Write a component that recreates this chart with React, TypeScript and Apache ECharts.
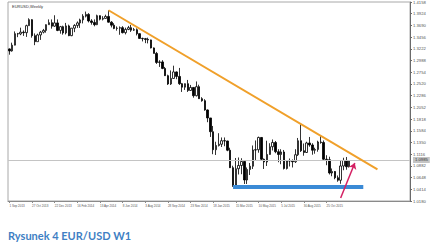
import React, { useEffect, useRef } from "react";
import * as echarts from "echarts";

// Weekly candles EUR/USD, week of 1 Sep 2013 .. week of 20 Dec 2015: [open, close, low, high]
const CANDLES: number[][] = [
  [1.3220, 1.3180, 1.3105, 1.3230], [1.3180, 1.3295, 1.3165, 1.3345], [1.3295, 1.3525, 1.3290, 1.3570], [1.3525, 1.3520, 1.3455, 1.3540],
  [1.3520, 1.3555, 1.3495, 1.3645], [1.3555, 1.3545, 1.3480, 1.3590], [1.3545, 1.3685, 1.3460, 1.3705], [1.3685, 1.3805, 1.3680, 1.3832],
  [1.3805, 1.3485, 1.3445, 1.3815], [1.3485, 1.3365, 1.3295, 1.3530], [1.3365, 1.3500, 1.3365, 1.3525], [1.3500, 1.3555, 1.3400, 1.3580],
  [1.3555, 1.3590, 1.3530, 1.3620], [1.3590, 1.3705, 1.3545, 1.3710], [1.3705, 1.3745, 1.3700, 1.3810], [1.3745, 1.3675, 1.3625, 1.3810],
  [1.3675, 1.3740, 1.3660, 1.3893], [1.3740, 1.3590, 1.3575, 1.3810], [1.3590, 1.3665, 1.3525, 1.3680], [1.3665, 1.3540, 1.3505, 1.3685],
  [1.3540, 1.3680, 1.3510, 1.3740], [1.3680, 1.3485, 1.3475, 1.3705], [1.3485, 1.3635, 1.3475, 1.3640], [1.3635, 1.3690, 1.3555, 1.3715],
  [1.3690, 1.3740, 1.3640, 1.3770], [1.3740, 1.3800, 1.3640, 1.3825], [1.3800, 1.3875, 1.3730, 1.3915], [1.3875, 1.3910, 1.3850, 1.3967],
  [1.3910, 1.3780, 1.3750, 1.3935], [1.3780, 1.3750, 1.3705, 1.3815], [1.3750, 1.3705, 1.3672, 1.3810], [1.3705, 1.3885, 1.3695, 1.3905],
  [1.3885, 1.3815, 1.3790, 1.3850], [1.3815, 1.3830, 1.3790, 1.3875], [1.3830, 1.3870, 1.3825, 1.3905], [1.3870, 1.3755, 1.3745, 1.3993],
  [1.3755, 1.3695, 1.3650, 1.3775], [1.3695, 1.3630, 1.3615, 1.3735], [1.3630, 1.3635, 1.3585, 1.3670], [1.3635, 1.3645, 1.3503, 1.3670],
  [1.3645, 1.3545, 1.3530, 1.3675], [1.3545, 1.3610, 1.3510, 1.3645], [1.3610, 1.3645, 1.3595, 1.3680], [1.3645, 1.3595, 1.3560, 1.3700],
  [1.3595, 1.3605, 1.3580, 1.3640], [1.3605, 1.3525, 1.3490, 1.3630], [1.3525, 1.3430, 1.3425, 1.3530], [1.3430, 1.3425, 1.3370, 1.3445],
  [1.3425, 1.3410, 1.3335, 1.3440], [1.3410, 1.3400, 1.3330, 1.3445], [1.3400, 1.3240, 1.3230, 1.3405], [1.3240, 1.3130, 1.3130, 1.3250],
  [1.3130, 1.2950, 1.2920, 1.3160], [1.2950, 1.2960, 1.2860, 1.2995], [1.2960, 1.2830, 1.2815, 1.2995], [1.2830, 1.2685, 1.2680, 1.2860],
  [1.2685, 1.2520, 1.2500, 1.2705], [1.2520, 1.2630, 1.2500, 1.2790], [1.2630, 1.2760, 1.2625, 1.2885], [1.2760, 1.2670, 1.2615, 1.2770],
  [1.2670, 1.2525, 1.2500, 1.2840], [1.2525, 1.2455, 1.2360, 1.2540], [1.2455, 1.2525, 1.2400, 1.2530], [1.2525, 1.2390, 1.2360, 1.2600],
  [1.2390, 1.2450, 1.2380, 1.2500], [1.2450, 1.2285, 1.2245, 1.2455], [1.2285, 1.2465, 1.2270, 1.2570], [1.2465, 1.2225, 1.2220, 1.2505],
  [1.2225, 1.2185, 1.2165, 1.2255], [1.2185, 1.2000, 1.1985, 1.2215], [1.2000, 1.1840, 1.1755, 1.2010], [1.1840, 1.1565, 1.1460, 1.1840],
  [1.1565, 1.1205, 1.1115, 1.1680], [1.1205, 1.1290, 1.1100, 1.1365], [1.1290, 1.1315, 1.1270, 1.1535], [1.1315, 1.1385, 1.1260, 1.1450],
  [1.1385, 1.1380, 1.1275, 1.1450], [1.1380, 1.1195, 1.1175, 1.1385], [1.1195, 1.0845, 1.0840, 1.1245], [1.0845, 1.0495, 1.0462, 1.0885],
  [1.0495, 1.0825, 1.0460, 1.1040], [1.0825, 1.0890, 1.0710, 1.1050], [1.0890, 1.0970, 1.0715, 1.1035], [1.0970, 1.0600, 1.0520, 1.0980],
  [1.0600, 1.0810, 1.0520, 1.0850], [1.0810, 1.0875, 1.0700, 1.0940], [1.0875, 1.1200, 1.0820, 1.1290], [1.1200, 1.1205, 1.1000, 1.1390],
  [1.1205, 1.1450, 1.1145, 1.1467], [1.1450, 1.1015, 1.0985, 1.1440], [1.1015, 1.0960, 1.0820, 1.1030], [1.0960, 1.1110, 1.0880, 1.1385],
  [1.1110, 1.1265, 1.1105, 1.1335], [1.1265, 1.1350, 1.1190, 1.1410], [1.1350, 1.1165, 1.1135, 1.1380], [1.1165, 1.1110, 1.0955, 1.1215],
  [1.1110, 1.1160, 1.0915, 1.1215], [1.1160, 1.0830, 1.0810, 1.1200], [1.0830, 1.0980, 1.0810, 1.0990], [1.0980, 1.0985, 1.0870, 1.1030],
  [1.0985, 1.0965, 1.0850, 1.1010], [1.0965, 1.1105, 1.0940, 1.1215], [1.1105, 1.1385, 1.1080, 1.1440], [1.1385, 1.1185, 1.1160, 1.1714],
  [1.1185, 1.1150, 1.1085, 1.1330], [1.1150, 1.1340, 1.1140, 1.1365], [1.1340, 1.1300, 1.1265, 1.1460], [1.1300, 1.1195, 1.1105, 1.1335],
  [1.1195, 1.1210, 1.1125, 1.1245], [1.1210, 1.1360, 1.1165, 1.1385], [1.1360, 1.1350, 1.1325, 1.1495], [1.1350, 1.1015, 1.1000, 1.1390],
  [1.1015, 1.1005, 1.0895, 1.1095], [1.1005, 1.0740, 1.0710, 1.1065], [1.0740, 1.0770, 1.0675, 1.0830], [1.0770, 1.0645, 1.0615, 1.0760],
  [1.0645, 1.0595, 1.0565, 1.0690], [1.0595, 1.0880, 1.0524, 1.0980], [1.0880, 1.0990, 1.0795, 1.1045], [1.0990, 1.0865, 1.0805, 1.1060],
  [1.0865, 1.0985, 1.0850, 1.0990],
];

const TOTAL_SLOTS = 142; // weekly slots shown, including empty space on the right
const X_TICK_EVERY = 8;
const X_TICK_LABELS = [
  "1 Sep 2013", "27 Oct 2013", "22 Dec 2013", "16 Feb 2014", "13 Apr 2014", "8 Jun 2014", "3 Aug 2014",
  "28 Sep 2014", "23 Nov 2014", "18 Jan 2015", "15 Mar 2015", "10 May 2015", "5 Jul 2015", "30 Aug 2015", "25 Oct 2015",
];
const Y_MIN = 1.018;
const Y_STEP = 0.0234;
const Y_STEPS = 17;
const LAST_PRICE = 1.0985;

const TREND_LINE = [[35, 1.3993], [130, 1.081]];
const SUPPORT_LINE = [[79, 1.0462], [125, 1.0462]];
const ARROW = [[117, 1.0241], [122, 1.0939]];

const CAPTION = "Rysunek 4 EUR/USD W1";
const SYMBOL_TITLE = "EURUSD,Weekly";

export default function App() {
  const ref = useRef<HTMLDivElement>(null);
  useEffect(() => {
    if (!ref.current) return;
    const chart = echarts.init(ref.current, null, { renderer: "svg" });
    const categories = Array.from({ length: TOTAL_SLOTS }, (_, i) => String(i));
    const showTick = (idx: number) => idx % X_TICK_EVERY === 0 && idx / X_TICK_EVERY < X_TICK_LABELS.length;
    const font = "'Liberation Sans', Arial, sans-serif";
    chart.setOption({
      animation: false,
      backgroundColor: "#ffffff",
      grid: { left: 8, right: 21, top: 2, bottom: 46, show: true, borderColor: "#a8a8a8", borderWidth: 1 },
      xAxis: {
        type: "category",
        data: categories,
        boundaryGap: true,
        axisLine: { lineStyle: { color: "#8a8a8a", width: 1 } },
        axisTick: { show: true, interval: showTick, alignWithLabel: true, length: 2, lineStyle: { color: "#8a8a8a" } },
        axisLabel: {
          interval: showTick,
          formatter: (_v: string, idx: number) => X_TICK_LABELS[idx / X_TICK_EVERY] ?? "",
          fontSize: 3,
          color: "#555",
          fontFamily: font,
          align: "left",
          margin: 3,
          hideOverlap: false,
          showMinLabel: true,
        },
        splitLine: { show: false },
      },
      yAxis: {
        type: "value",
        position: "right",
        min: Y_MIN,
        max: Y_MIN + Y_STEP * Y_STEPS,
        interval: Y_STEP,
        axisLine: { show: true, lineStyle: { color: "#6a6a6a", width: 1 } },
        axisTick: { show: true, length: 2, lineStyle: { color: "#6a6a6a" } },
        axisLabel: {
          formatter: (v: number) => v.toFixed(4),
          fontSize: 4.2,
          color: "#555",
          fontFamily: font,
          margin: 3,
          showMinLabel: true,
          showMaxLabel: true,
        },
        splitLine: { show: false },
      },
      series: [
        {
          type: "candlestick",
          data: CANDLES,
          barWidth: 2,
          itemStyle: {
            color: "#ffffff",
            color0: "#000000",
            borderColor: "#000000",
            borderColor0: "#000000",
            borderWidth: 0.8,
          },
          markLine: {
            silent: true,
            symbol: "none",
            animation: false,
            data: [{ yAxis: LAST_PRICE }],
            lineStyle: { color: "#c4c4c4", width: 1, type: "solid" },
            label: {
              show: true,
              position: "end",
              formatter: () => LAST_PRICE.toFixed(4),
              fontSize: 4.2,
              color: "#333",
              fontFamily: font,
              backgroundColor: "#c4c4c4",
              padding: [1, 2],
              distance: 3,
            },
          },
        },
        {
          type: "line",
          data: [],
          markLine: {
            silent: true,
            animation: false,
            symbol: "none",
            label: { show: false },
            data: [
              [
                { coord: TREND_LINE[0], lineStyle: { color: "#f0a02a", width: 2, type: "solid" } },
                { coord: TREND_LINE[1] },
              ],
              [
                { coord: SUPPORT_LINE[0], lineStyle: { color: "#3a8ad6", width: 4, type: "solid" } },
                { coord: SUPPORT_LINE[1] },
              ],
              [
                { coord: ARROW[0], symbol: "none", lineStyle: { color: "#d42063", width: 1.5, type: "solid" } },
                { coord: ARROW[1], symbol: "arrow", symbolSize: 6 },
              ],
            ],
          },
        },
      ],
      graphic: [
        {
          type: "text",
          left: 12,
          top: 4,
          style: { text: SYMBOL_TITLE, fontSize: 4, fill: "#333", fontFamily: font },
        },
        {
          type: "text",
          left: 8,
          top: 230,
          style: {
            text: CAPTION,
            fontSize: 11,
            fontWeight: "bold",
            fill: "#3f7fc4",
            fontFamily: "Lato, 'Open Sans', sans-serif",
          },
        },
      ],
    });
    return () => chart.dispose();
  }, []);
  return <div ref={ref} style={{ position: "fixed", left: 0, top: 0, width: 431, height: 247 }} />;
}
